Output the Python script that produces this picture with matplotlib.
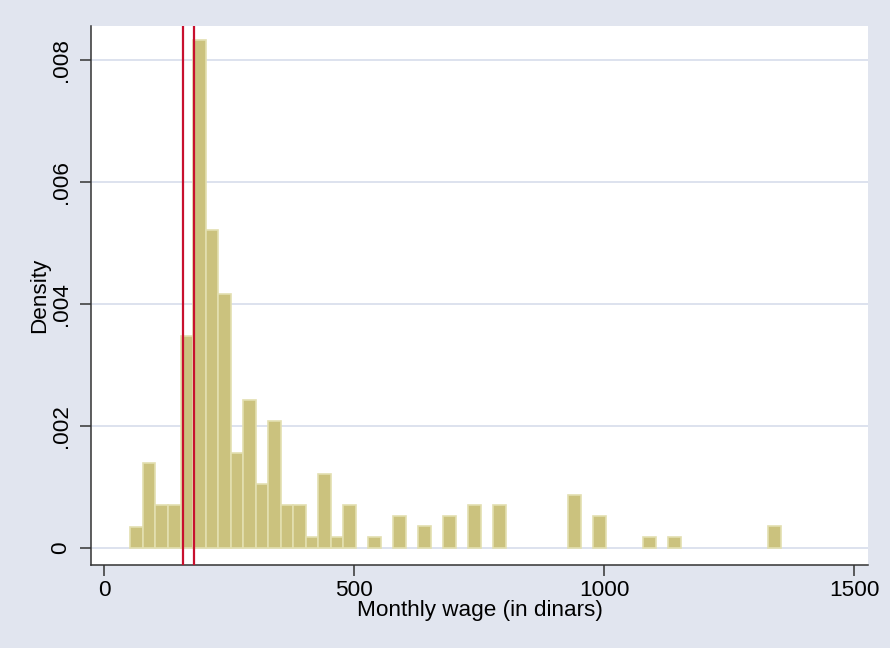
import matplotlib
matplotlib.use("Agg")
import matplotlib.pyplot as plt
import numpy as np

# histogram of monthly wages (density per bin), bins of width 25 starting at 53
bin_start = 53
bin_width = 25
density = [0.00035, 0.00139, 0.00071, 0.00071, 0.00347, 0.00833, 0.00521, 0.00416,
           0.00156, 0.00243, 0.00105, 0.00208, 0.00071, 0.00071, 0.00018, 0.00122,
           0.00018, 0.00071, 0.0, 0.00018, 0.0, 0.00052, 0.0, 0.00036,
           0.0, 0.00052, 0.0, 0.00071, 0.0, 0.00071, 0.0, 0.0,
           0.0, 0.0, 0.0, 0.00087, 0.0, 0.00052, 0.0, 0.0,
           0.0, 0.00018, 0.0, 0.00018, 0.0, 0.0, 0.0, 0.0,
           0.0, 0.0, 0.0, 0.00036]

# reference lines
vlines = [157, 180]

x_ticks = [0, 500, 1000, 1500]
y_ticks = [0, 0.002, 0.004, 0.006, 0.008]
y_ticklabels = ['0', '.002', '.004', '.006', '.008']

plt.rcParams['font.family'] = ['Liberation Sans', 'DejaVu Sans']
fs = 16.2

bg = '#e1e5ef'
fig = plt.figure(figsize=(8.9, 6.48), dpi=100, facecolor=bg)
ax = fig.add_axes([0.1022, 0.128, 0.873, 0.832])
ax.set_facecolor('white')

# bars (skip empty bins)
left_edges = bin_start + bin_width * np.arange(len(density))
dens = np.array(density)
mask = dens > 0
ax.bar(left_edges[mask], dens[mask], width=bin_width, align='edge',
       color='#cbc27e', edgecolor='#e3dfb0', linewidth=1.2, zorder=2)

# red lines
for v in vlines:
    ax.axvline(v, color='#c8102e', linewidth=1.6, zorder=3)

# grid
for t in y_ticks:
    ax.axhline(t, color='#dde2ee', linewidth=1.4, zorder=1)

ax.set_xlim(-26, 1527)
ax.set_ylim(-0.00028, 0.00856)
ax.set_xticks(x_ticks)
ax.set_xticklabels([str(t) for t in x_ticks], fontsize=fs)
ax.set_yticks(y_ticks)
ax.set_yticklabels(y_ticklabels, fontsize=fs, rotation=90, va='center')

ax.tick_params(axis='both', direction='out', length=8, width=1.1,
               color='#333333')
ax.tick_params(axis='x', pad=3)
ax.tick_params(axis='y', pad=6)

for side in ['top', 'right']:
    ax.spines[side].set_visible(False)
for side in ['left', 'bottom']:
    ax.spines[side].set_color('#333333')
    ax.spines[side].set_linewidth(1.1)

ax.set_xlabel('Monthly wage (in dinars)', fontsize=fs, labelpad=-1)
ax.set_ylabel('Density', fontsize=fs, labelpad=0)

fig.savefig('out.png', dpi=100, facecolor=bg)
